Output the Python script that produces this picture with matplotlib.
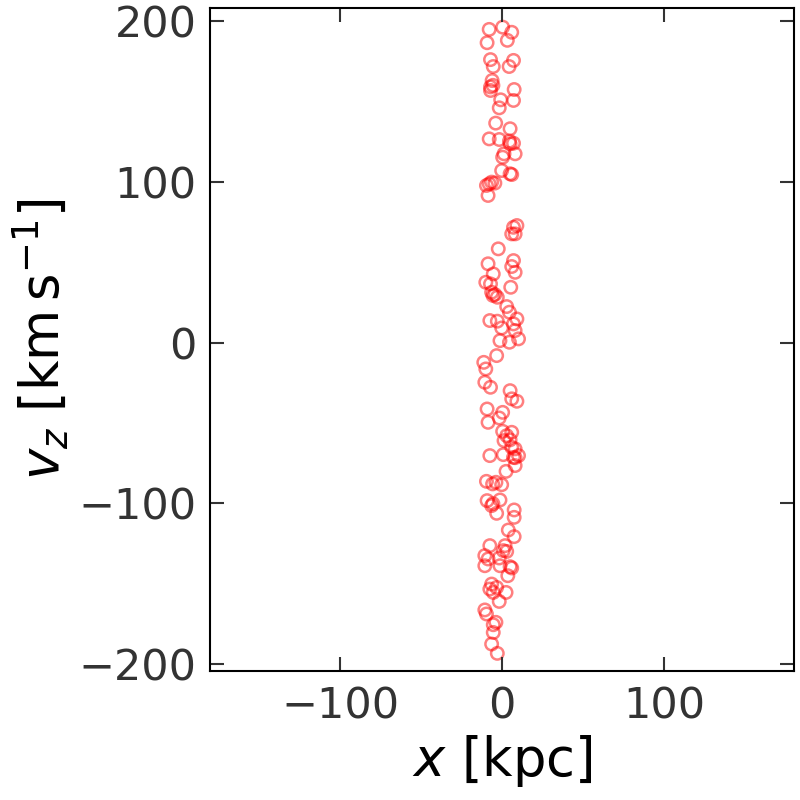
import matplotlib
matplotlib.use("Agg")
import matplotlib.pyplot as plt
import numpy as np

# positions [kpc] and vertical velocities [km/s]
x_kpc = [-7.9, 0.4, 6.0, -9.2, 3.3, -7.1, 7.1, -5.4, 4.4, -6.1, -7.1, -7.1, -5.6,
         7.5, -0.8, 7.1, -1.7, -3.9, 5.0,
         -7.9, -1.7, 4.6, 5.0, 7.1, 1.25, 8.1, 0.4, -0.2, 6.0, 5.0,
         -6.4, -4.4, -9.6, -7.9, -8.6, 9.2, 7.1, 6.0, 8.1,
         -2.3, -8.6, 7.1, 6.0, 8.1, -5.4, -10.0, -7.1, 5.4, -6.4, -4.4, -2.9, -5.6,
         2.9, 4.6, 9.2, -7.5, -2.9, 7.1, -0.2, 8.1, -1.25, 4.6, 10.2,
         -3.3, -11.25, -10.0, -10.6, -7.1, 5.0, 6.0, 9.2, -9.2, 0.4, -1.7, -8.6,
         0.4, 6.0, 2.9, 1.25, 5.0, 6.0, 8.1, -7.5, 0.8, 7.1, 10.2,
         8.1, 8.1, 2.5, -9.6, -5.8, -0.2, -3.75, -9.2, -1.25, -6.4, -5.6, -3.3,
         7.5, 7.5, 3.9, 7.5, -7.5, 1.9, 0.8, 2.9, -10.6, -8.6, -1.7, -10.6,
         -1.25, 5.0,
         6.0, 3.6, -6.4, -3.3, -7.5, -5.4, 2.5, -1.7, -10.6, -9.6, -3.75, -5.4,
         -5.4, -6.4, -2.9]
vz = [194.8, 196.2, 193.0, 186.5, 188.0, 176.0, 175.5, 171.7, 171.7, 163.0, 159.0,
      156.8, 160.0, 157.4, 151.0, 150.6, 146.0, 136.5, 133.0,
      126.7, 126.3, 125.3, 123.6, 124.0, 117.4, 117.4, 115.3, 107.0, 104.5, 105.0,
      99.8, 99.2, 97.7, 98.7, 91.5, 72.8, 71.7, 67.6, 67.6,
      58.3, 49.0, 51.0, 47.3, 43.7, 42.7, 37.5, 36.5, 34.4, 31.3, 29.9, 28.2, 29.3,
      22.4, 18.9, 14.7, 13.7, 13.3, 11.6, 9.1, 7.5, 1.2, 0.2, 2.3,
      -8.1, -12.3, -16.4, -24.7, -27.8, -29.9, -35.0, -36.5, -41.3, -43.4, -46.9,
      -49.6, -55.2, -55.8, -57.9, -61.0, -60.5, -65.1, -66.1, -70.3, -69.7, -71.4,
      -70.3,
      -71.6, -76.5, -80.1, -86.3, -87.9, -88.4, -86.9, -98.3, -97.9, -101.4,
      -100.2, -106.2, -104.1, -108.7, -116.6, -120.7, -126.3, -126.3, -129.4,
      -129.9, -132.5, -134.6, -134.0, -138.8, -138.8, -139.4,
      -140.2, -145.0, -150.2, -152.3, -153.3, -155.4, -155.4, -161.0, -166.3,
      -168.8, -174.0, -175.5, -180.3, -187.5, -193.3]

xticks = [-100, 0, 100]
yticks = [-200, -100, 0, 100, 200]

fig = plt.figure(figsize=(8, 8), dpi=100)
ax = fig.add_axes([0.263, 0.161, 0.729, 0.829])

ax.scatter(x_kpc, vz, s=80, facecolors="none", edgecolors="red",
           linewidths=1.8, alpha=0.5)

ax.set_xlim(-180, 180)
ax.set_ylim(-204.4, 208.1)
ax.set_xticks(xticks)
ax.set_yticks(yticks)

ax.tick_params(direction="in", top=True, right=True, length=10, width=1.5,
               color="#333333", labelcolor="#333333", labelsize=31, pad=10)
for sp in ax.spines.values():
    sp.set_linewidth(1.5)
    sp.set_color("black")

ax.set_xlabel(r"$x$ [kpc]", fontsize=38, labelpad=4)
ax.set_ylabel(r"$v_z$ [km$\,$s$^{-1}$]", fontsize=38, labelpad=6)

fig.savefig("out.png", dpi=100)
